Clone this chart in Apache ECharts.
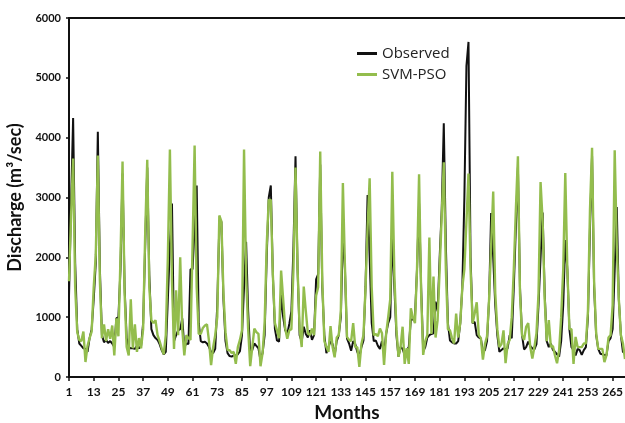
<!DOCTYPE html>
<html>
<head>
<meta charset="utf-8">
<script src="https://cdn.jsdelivr.net/npm/echarts@6/dist/echarts.min.js"></script>
<style>
  html, body { margin: 0; padding: 0; background: #fff; }
  #container { width: 625px; height: 423px; }
</style>
</head>
<body>
<div id="container"></div>
<script>
// observed monthly discharge (m3/sec), months 1..271
var observed = [
    1350, 2900, 4330, 1900, 800, 560, 520, 480, 470, 420, 650, 800,
    1300, 1900, 4100, 1800, 700, 580, 620, 570, 600, 560, 500, 980,
    1000, 1800, 3400, 1500, 650, 500, 480, 480, 470, 520, 480, 520,
    900, 2200, 3500, 1700, 800, 700, 650, 620, 550, 450, 380, 420,
    1300, 2200, 2900, 600, 700, 780, 800, 980, 500, 560, 550, 1800,
    1800, 2500, 3200, 900, 600, 580, 590, 560, 500, 420, 400, 470,
    1200, 2550, 2600, 1300, 600, 400, 350, 340, 360, 360, 380, 430,
    700, 1500, 2260, 1100, 400, 450, 560, 520, 480, 280, 400, 700,
    2000, 3000, 3200, 1700, 800, 610, 590, 1390, 1000, 780, 720, 890,
    1100, 2180, 3690, 1800, 700, 590, 840, 720, 660, 780, 620, 700,
    1630, 1720, 3550, 1500, 700, 400, 500, 600, 550, 360, 600, 700,
    1000, 2400, 1800, 640, 560, 440, 600, 550, 420, 340, 500, 610,
    1510, 3040, 2000, 900, 600, 610, 520, 470, 600, 400, 720, 900,
    1000, 2400, 1500, 700, 340, 500, 470, 370, 450, 500, 960, 960,
    1000, 1800, 2900, 1500, 430, 500, 660, 700, 720, 730, 1260, 1100,
    2000, 2800, 4240, 2200, 900, 610, 580, 560, 560, 600, 900, 1500,
    3000, 5200, 5600, 2000, 900, 920, 700, 660, 640, 430, 450, 600,
    1300, 2740, 2000, 1200, 700, 420, 450, 480, 460, 480, 700, 650,
    1500, 2500, 3500, 1500, 700, 460, 500, 590, 520, 480, 460, 550,
    1200, 2000, 2750, 1400, 600, 500, 560, 450, 420, 380, 340, 600,
    1200, 2290, 1800, 800, 500, 450, 360, 470, 450, 370, 450, 500,
    1000, 2500, 3700, 1500, 700, 470, 390, 380, 370, 360, 600, 650,
    800, 1800, 2840, 1300, 700, 420, 400
];

// SVM-PSO predictions
var svmPso = [
    1600, 2700, 3650, 1500, 750, 620, 600, 760, 250, 520, 650, 760,
    1500, 2040, 3700, 1600, 650, 880, 600, 800, 640, 860, 360, 980,
    680, 2000, 3600, 1400, 500, 360, 1300, 480, 880, 420, 650, 480,
    800, 2400, 3630, 1500, 950, 900, 950, 700, 600, 480, 380, 700,
    2000, 3800, 1600, 470, 1450, 700, 2000, 800, 360, 700, 650, 620,
    2200, 3870, 1500, 720, 720, 820, 860, 880, 600, 200, 500, 700,
    1000, 2700, 2600, 1400, 750, 450, 450, 400, 420, 220, 500, 620,
    780, 3800, 1700, 800, 180, 500, 810, 750, 720, 180, 400, 900,
    2200, 2960, 2960, 1700, 900, 780, 650, 1780, 1300, 810, 640, 780,
    800, 1800, 3500, 1800, 800, 500, 1510, 1100, 730, 700, 810, 700,
    1360, 1500, 3770, 1600, 600, 500, 420, 850, 500, 330, 660, 700,
    1100, 3240, 1850, 670, 620, 600, 900, 500, 500, 170, 550, 700,
    1490, 2500, 3320, 1500, 700, 720, 680, 810, 730, 200, 720, 1000,
    1300, 3430, 1700, 800, 340, 500, 840, 220, 480, 220, 1150, 1000,
    900, 1800, 3390, 1400, 370, 600, 700, 2330, 720, 1680, 660, 950,
    1800, 2700, 3590, 1800, 800, 780, 650, 560, 1060, 660, 900, 1500,
    1800, 2600, 3400, 1800, 900, 1060, 1250, 700, 650, 290, 550, 680,
    1300, 2200, 3100, 1400, 800, 500, 550, 780, 230, 550, 620, 1000,
    1800, 2800, 3690, 1400, 700, 620, 840, 900, 500, 310, 500, 730,
    1400, 3260, 2600, 1300, 600, 950, 500, 520, 360, 230, 450, 1000,
    1800, 3410, 1800, 800, 800, 220, 670, 500, 500, 500, 560, 560,
    1100, 2800, 3830, 1600, 730, 470, 470, 470, 250, 360, 660, 700,
    1200, 3790, 2200, 1300, 700, 560, 300
];

// month numbers on the category axis (labels shown every 12th: 1, 13, 25 ...)
var months = [];
for (var i = 1; i <= observed.length; i++) {
    months.push(String(i));
}

var yTicks = [0, 1000, 2000, 3000, 4000, 5000, 6000];

var dom = document.getElementById("container");
var myChart = echarts.init(dom, null, { renderer: 'canvas' });

var labelFont = 'Lato, "Open Sans", sans-serif';

var option = {
    animation: false,
    backgroundColor: '#fff',
    grid: {
        left: 69,
        right: 0,
        top: 18,
        bottom: 46,
        containLabel: false,
        outerBoundsMode: 'none'
    },
    legend: {
        orient: 'vertical',
        left: 352,
        top: 41,
        itemWidth: 20,
        itemHeight: 3,
        itemGap: 6,
        icon: 'rect',
        textStyle: {
            fontFamily: '"Open Sans", sans-serif',
            fontSize: 15,
            color: '#222'
        },
        data: ['Observed', 'SVM-PSO']
    },
    xAxis: [
        {
            type: 'category',
            data: months,
            boundaryGap: false,
            name: 'Months',
            nameLocation: 'middle',
            nameGap: 26,
            nameTextStyle: {
                fontFamily: labelFont,
                fontWeight: 'bold',
                fontSize: 19,
                color: '#111'
            },
            axisLine: { lineStyle: { color: '#111', width: 2 } },
            axisTick: { show: true, interval: 11, length: 4, inside: false, lineStyle: { color: '#111', width: 1.5 } },
            axisLabel: {
                interval: 11,
                margin: 9,
                fontFamily: labelFont,
                fontWeight: 'bold',
                fontSize: 12,
                color: '#111'
            },
            splitLine: { show: false }
        },
        {
            type: 'category',
            data: months,
            boundaryGap: false,
            position: 'top',
            axisLine: { lineStyle: { color: '#111', width: 2 } },
            axisTick: { show: false },
            axisLabel: { show: false },
            splitLine: { show: false }
        }
    ],
    yAxis: {
        type: 'value',
        min: yTicks[0],
        max: yTicks[yTicks.length - 1],
        interval: 1000,
        name: 'Discharge (m³/sec)',
        nameLocation: 'middle',
        nameGap: 43,
        nameTextStyle: {
            fontFamily: labelFont,
            fontWeight: 'bold',
            fontSize: 18,
            color: '#111'
        },
        axisLine: { show: true, lineStyle: { color: '#111', width: 2 } },
        axisTick: { show: true, length: 3, lineStyle: { color: '#111', width: 1.5 } },
        axisLabel: {
            margin: 8,
            fontFamily: labelFont,
            fontWeight: 'bold',
            fontSize: 11,
            color: '#111',
            formatter: function (v) {
                return String(v);
            }
        },
        splitLine: { show: false }
    },
    series: [
        {
            name: 'Observed',
            type: 'line',
            data: observed,
            showSymbol: false,
            symbol: 'none',
            lineStyle: { color: '#111', width: 2 },
            itemStyle: { color: '#111' }
        },
        {
            name: 'SVM-PSO',
            type: 'line',
            data: svmPso,
            showSymbol: false,
            symbol: 'none',
            lineStyle: { color: '#93bd4d', width: 2.4 },
            itemStyle: { color: '#93bd4d' }
        }
    ]
};

myChart.setOption(option);
</script>
</body>
</html>
